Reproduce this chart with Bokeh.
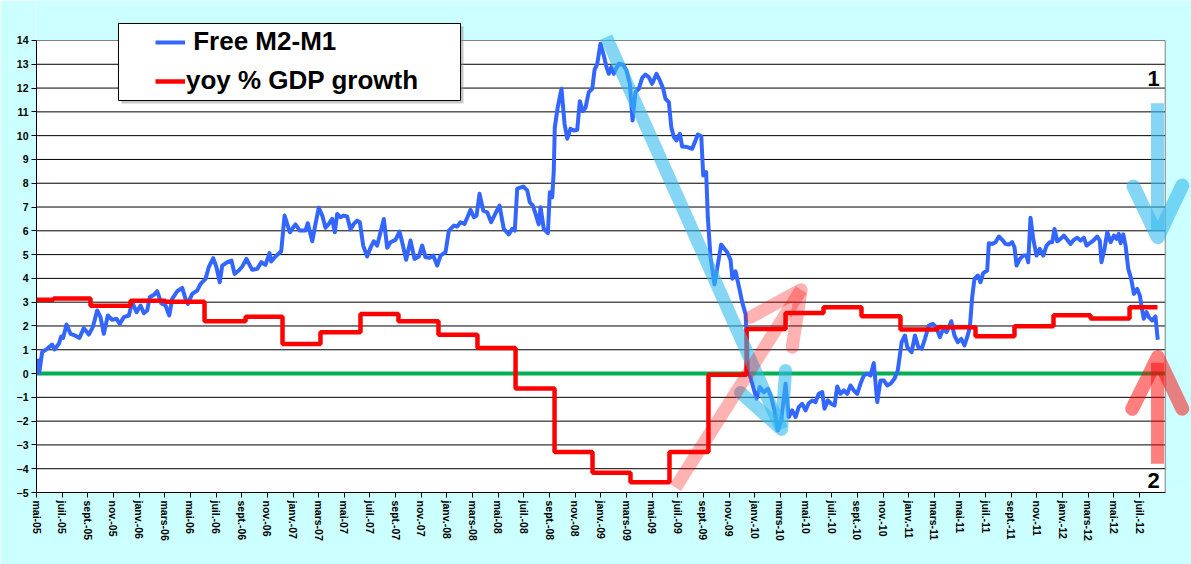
from bokeh.plotting import figure
from bokeh.models import Range1d, FixedTicker, Legend, LegendItem, Label
from bokeh.embed import file_html
from bokeh.resources import INLINE

# ---------------- data ----------------
x_labels = ["mai-05", "juil.-05", "sept.-05", "nov.-05",
            "janv.-06", "mars-06", "mai-06", "juil.-06", "sept.-06", "nov.-06",
            "janv.-07", "mars-07", "mai-07", "juil.-07", "sept.-07", "nov.-07",
            "janv.-08", "mars-08", "mai-08", "juil.-08", "sept.-08", "nov.-08",
            "janv.-09", "mars-09", "mai-09", "juil.-09", "sept.-09", "nov.-09",
            "janv.-10", "mars-10", "mai-10", "juil.-10", "sept.-10", "nov.-10",
            "janv.-11", "mars-11", "mai-11", "juil.-11", "sept.-11", "nov.-11",
            "janv.-12", "mars-12", "mai-12", "juil.-12"]
y_ticks = [-5, -4, -3, -2, -1, 0, 1, 2, 3, 4, 5, 6, 7, 8, 9, 10, 11, 12, 13, 14]

# Free M2-M1 (months since May 2005, value)
blue_m = [0.05, 0.21, 0.44, 0.83, 1.22, 1.40, 1.74, 1.93, 2.08, 2.34, 2.65, 2.99, 3.35, 3.69, 4.08,
          4.39, 4.73, 4.99, 5.25, 5.56, 5.90, 6.24, 6.49, 6.81, 7.20, 7.46, 7.80, 8.11, 8.37, 8.63,
          8.83, 9.15, 9.41, 9.72, 10.06, 10.35, 10.58, 10.97, 11.36, 11.62, 11.80, 12.14, 12.53, 12.79,
          13.18, 13.43, 13.78, 14.03, 14.29, 14.48, 14.87, 15.20, 15.44, 15.77, 16.04, 16.37, 16.82,
          17.21, 17.52, 17.85, 18.17, 18.30, 18.63, 19.08, 19.34, 19.75, 20.19, 20.53, 20.97, 21.15,
          21.50, 21.75, 22.01, 22.28, 22.53, 22.79, 23.05, 23.26, 23.44, 23.70, 23.96, 24.22, 24.48,
          24.74, 25.00, 25.21, 25.47, 25.78, 26.04, 26.30, 26.56, 26.82, 27.08, 27.34, 27.60, 27.99,
          28.30, 28.51, 28.82, 29.16, 29.47, 29.81, 30.07, 30.33, 30.66, 30.93, 31.24, 31.50, 31.89,
          32.15, 32.54, 32.80, 33.06, 33.37, 33.58, 33.84, 34.10, 34.31, 34.54, 34.83, 35.14, 35.45,
          35.79, 36.10, 36.43, 36.82, 37.09, 37.29, 37.48, 37.95, 38.26, 38.46, 38.70, 38.91, 39.16,
          39.30, 39.55, 39.87, 40.02, 40.21, 40.33, 40.41, 40.64, 40.93, 41.17, 41.38, 41.63, 41.89,
          42.16, 42.36, 42.59, 42.80, 43.06, 43.33, 43.51, 43.72, 43.97, 44.23, 44.44, 44.62, 44.81,
          45.01, 45.22, 45.40, 45.74, 46.00, 46.26, 46.47, 46.70, 46.96, 47.22, 47.48, 47.74, 48.00,
          48.34, 48.60, 48.86, 49.04, 49.30, 49.49, 49.69, 49.90, 50.16, 50.34, 50.73, 51.12, 51.38,
          51.56, 51.83, 51.98, 52.21, 52.34, 52.55, 52.86, 53.38, 53.85, 54.11, 54.26, 54.50, 54.83,
          55.02, 55.28, 55.41, 55.46, 55.67, 55.88, 56.14, 56.39, 56.71, 57.02, 57.28, 57.54, 57.80,
          58.06, 58.40, 58.65, 58.92, 59.18, 59.43, 59.70, 59.96, 60.21, 60.48, 60.74, 60.99, 61.26,
          61.44, 61.70, 61.96, 62.22, 62.43, 62.68, 62.94, 63.21, 63.46, 63.72, 63.99, 64.24, 64.50,
          64.77, 65.02, 65.28, 65.55, 65.80, 66.06, 66.33, 66.58, 66.89, 67.15, 67.45, 67.71, 67.89,
          68.23, 68.49, 68.75, 69.01, 69.27, 69.57, 69.88, 70.15, 70.43, 70.69, 70.95, 71.13, 71.32,
          71.57, 71.83, 72.10, 72.35, 72.56, 72.77, 72.95, 73.13, 73.39, 73.60, 73.81, 74.12, 74.25,
          74.51, 74.77, 75.03, 75.29, 75.55, 75.81, 76.07, 76.25, 76.41, 76.67, 76.93, 77.19, 77.32,
          77.50, 77.71, 77.97, 78.22, 78.49, 78.75, 79.00, 79.19, 79.37, 79.58, 79.84, 80.10, 80.36,
          80.62, 80.88, 81.14, 81.40, 81.66, 81.87, 82.12, 82.39, 82.70, 82.90, 83.03, 83.27, 83.48,
          83.74, 84.00, 84.20, 84.38, 84.52, 84.73, 84.91, 85.12, 85.35, 85.56, 85.82, 86.02, 86.21,
          86.33, 86.54, 86.72, 86.99, 87.24, 87.42]
blue_v = [0.62, 0.02, 0.90, 1.04, 1.22, 1.01, 1.25, 1.56, 1.50, 2.06, 1.67, 1.60, 1.50, 1.91, 1.64,
          1.95, 2.65, 2.37, 1.67, 2.44, 2.26, 2.30, 2.09, 2.37, 2.44, 3.00, 2.58, 2.86, 2.54, 2.65,
          3.21, 3.31, 3.46, 2.96, 2.86, 2.44, 3.14, 3.46, 3.60, 3.14, 2.93, 3.35, 3.49, 3.77,
          3.98, 4.47, 4.85, 4.47, 3.84, 4.54, 4.68, 4.75, 4.19, 4.33, 4.50, 4.82, 4.36,
          4.40, 4.68, 4.57, 5.06, 4.71, 4.92, 5.14, 6.64, 5.94, 6.27, 6.01, 6.01, 6.32,
          5.56, 6.29, 6.97, 6.64, 6.13, 6.29, 6.50, 5.94, 6.71, 6.57, 6.64, 6.60, 6.06,
          6.29, 6.43, 6.36, 5.38, 4.92, 5.29, 5.56, 5.38, 5.94, 6.50, 5.29, 5.52, 5.62,
          5.97, 5.52, 4.78, 5.59, 4.82, 4.92, 5.38, 4.89, 4.87, 4.96, 4.54, 4.96, 5.10,
          6.01, 6.22, 6.18, 6.36, 6.29, 6.55, 6.88, 6.57, 6.64, 7.56, 6.85, 6.78, 6.36,
          6.74, 7.06, 6.08, 5.85, 6.08, 6.01, 7.77, 7.86, 7.70, 7.20, 7.06, 6.71, 6.27,
          6.99, 6.08, 5.90, 7.62, 7.41, 8.54, 10.36, 11.20, 11.97, 10.50, 9.87, 10.29, 10.22,
          10.25, 11.45, 11.03, 11.17, 11.83, 11.97, 12.77, 13.02, 13.86, 13.37, 12.88, 12.60, 12.88,
          12.60, 12.85, 13.02, 12.98, 12.74, 12.18, 10.64, 11.83, 11.97, 12.43, 12.57, 12.46, 12.18,
          12.60, 12.32, 11.97, 11.55, 11.41, 10.36, 9.94, 9.80, 10.08, 9.54, 9.52, 9.45, 9.80,
          10.05, 9.97, 8.33, 8.47, 6.57, 4.89, 3.75, 5.42, 5.10, 4.78, 3.98, 4.30, 3.49,
          3.00, 2.51, 1.11, 0.06, -0.15, -0.57, -1.06, -0.57, -0.78, -0.64, -0.99, -1.55, -2.39,
          -1.97, -0.43, -1.83, -1.55, -1.83, -1.41, -1.27, -1.55, -1.25, -1.13, -1.20, -0.85, -0.78,
          -1.48, -1.13, -1.27, -1.34, -0.54, -0.85, -0.71, -0.85, -0.50, -0.71, -0.85, -0.43, -0.08,
          -0.01, -0.08, 0.44, -1.20, -0.29, -0.29, -0.50, -0.43, -0.22, 0.13, 1.32, 1.60, 1.11,
          0.90, 1.60, 1.11, 1.04, 1.46, 2.02, 2.09, 1.95, 1.53, 1.88, 1.74, 1.95, 2.20,
          1.60, 1.32, 1.46, 1.18, 1.53, 1.95, 3.21, 3.98, 4.12, 3.84, 4.22, 4.33, 5.48,
          5.45, 5.52, 5.76, 5.62, 5.45, 5.42, 5.52, 5.31, 4.54, 4.82, 4.96, 4.96, 4.68,
          6.55, 5.66, 4.96, 5.24, 4.96, 5.38, 5.52, 5.52, 6.08, 5.56, 5.66, 5.80, 5.62,
          5.45, 5.62, 5.71, 5.59, 5.71, 5.38, 5.48, 5.59, 5.76, 5.59, 4.68, 5.24, 5.94,
          5.52, 5.80, 5.66, 5.87, 5.48, 5.85, 5.38, 4.40, 3.98, 3.35, 3.56, 3.28, 2.65,
          2.30, 2.58, 2.37, 2.23, 2.40, 1.42]

# yoy % GDP growth (quarter start in months since May 2005, value)
red_start = [0.0, 1.33, 4.21, 7.33, 10.06, 13.10, 16.30, 19.18, 22.14, 25.26, 28.22, 31.34, 34.38,
             37.35, 40.39, 43.35, 46.31, 49.35, 52.39, 55.36, 58.40, 61.36, 64.32, 67.36, 70.25,
             73.21, 76.25, 79.29, 82.18, 85.22]
red_vals = [3.10, 3.15, 2.85, 3.06, 3.02, 2.20, 2.39, 1.24, 1.74, 2.50, 2.20, 1.63, 1.07,
            -0.63, -3.30, -4.17, -4.57, -3.30, -0.05, 1.87, 2.55, 2.79, 2.41, 1.85, 1.95,
            1.57, 1.99, 2.45, 2.31, 2.79]
red_end = 87.40

# ---------------- layout constants ----------------
BG = "#CCFFFF"
FONT = "Liberation Sans"
x_lo, x_hi = 0.0, 88.0          # plot-area bounds (months)
y_lo, y_hi = -5.0, 14.0

p = figure(width=1191, height=564,
           x_range=Range1d(0, 90.05), y_range=Range1d(-5, 15.681),
           output_backend="svg", toolbar_location=None,
           min_border_left=36, min_border_right=0, min_border_top=0, min_border_bottom=72,
           background_fill_color=BG, border_fill_color=BG, outline_line_color=None)
p.xgrid.visible = False
p.ygrid.visible = False

# white plot area
p.quad(left=[x_lo], right=[x_hi], bottom=[y_lo], top=[y_hi],
       fill_color="white", line_color=None)

# horizontal grid lines
grid_vals = [v for v in y_ticks if y_lo < v < y_hi]
p.segment(x0=[x_lo] * len(grid_vals), x1=[x_hi] * len(grid_vals), y0=grid_vals, y1=grid_vals,
          line_color="black", line_width=1)
# top and right border of plot area
p.segment(x0=[x_lo, x_hi], x1=[x_hi, x_hi], y0=[y_hi, y_lo], y1=[y_hi, y_hi],
          line_color="#808080", line_width=1)

# zero line
p.line([x_lo, x_hi], [0, 0], line_color="#00B050", line_width=4)

# series
r_blue = p.line(blue_m, blue_v, line_color="#3366FF", line_width=4, line_join="round")
r_red = p.step(red_start + [red_end], red_vals + [red_vals[-1]], mode="after",
               line_color="#FF0000", line_width=4.5)

# annotation arrows
LB = "#33BBEE"
p.line([44.42, 58.09], [14.14, -2.35], line_color=LB, line_alpha=0.6, line_width=13, line_cap="butt")
p.line([54.89, 58.09, 58.40], [-0.80, -2.35, 0.13], line_color=LB, line_alpha=0.6, line_width=13,
       line_cap="round", line_join="round")
p.line([49.82, 59.62], [-4.79, 3.52], line_color="#FF0000", line_alpha=0.3, line_width=13, line_cap="butt")
p.line([55.67, 59.62, 58.92], [2.37, 3.52, 1.11], line_color="#FF0000", line_alpha=0.3, line_width=13,
       line_cap="round", line_join="round")
p.line([87.40, 87.40], [11.36, 6.0], line_color=LB, line_alpha=0.6, line_width=13, line_cap="butt")
p.line([85.53, 87.42, 89.33], [7.86, 5.73, 7.90], line_color=LB, line_alpha=0.6, line_width=14,
       line_cap="round", line_join="round")
p.line([87.40, 87.40], [-3.79, 0.45], line_color="#FF0000", line_alpha=0.5, line_width=13, line_cap="butt")
p.line([85.43, 87.42, 89.33], [-1.48, 0.69, -1.48], line_color="#FF0000", line_alpha=0.5, line_width=14,
       line_cap="round", line_join="round")

p.add_layout(Label(x=87.09, y=12.40, text="1", text_font=FONT, text_font_style="bold",
                   text_color="black", text_font_size="22px", text_align="center",
                   text_baseline="middle"))
p.add_layout(Label(x=87.09, y=-4.50, text="2", text_font=FONT, text_font_style="bold",
                   text_color="black", text_font_size="22px", text_align="center",
                   text_baseline="middle"))

# legend box with shadow
p.quad(left=[6.62], right=[33.29], top=[14.59], bottom=[11.35],
       fill_color="#909090", fill_alpha=0.5, line_color=None)
p.quad(left=[6.39], right=[33.06], top=[14.715], bottom=[11.478],
       fill_color="white", line_color="black", line_width=1)

legend = Legend(items=[LegendItem(label="\u00a0Free M2-M1", renderers=[r_blue]),
                       LegendItem(label="yoy % GDP growth", renderers=[r_red])],
                location=(115, 392), orientation="vertical",
                label_text_font=FONT, label_text_font_style="bold", label_text_font_size="26px",
                label_text_color="black",
                glyph_width=30, glyph_height=30, label_height=30, label_standoff=1,
                spacing=8, padding=4, margin=0,
                background_fill_alpha=0, border_line_alpha=0)
p.add_layout(legend, "center")

# axes
tick_months = [2 * i for i in range(len(x_labels))]
xa = p.xaxis[0]
xa.ticker = FixedTicker(ticks=tick_months)
xa.major_label_overrides = {m: lab for m, lab in zip(tick_months, x_labels)}
xa.major_label_orientation = "vertical"
xa.bounds = (x_lo, x_hi)
ya = p.yaxis[0]
ya.ticker = FixedTicker(ticks=y_ticks)
ya.bounds = (y_lo, y_hi)
for ax in (xa, ya):
    ax.axis_line_color = "black"
    ax.axis_line_width = 1
    ax.major_tick_line_color = "black"
    ax.major_tick_in = 0
    ax.major_tick_out = 5
    ax.minor_tick_line_color = None
    ax.major_label_text_font = FONT
    ax.major_label_text_font_style = "bold"
    ax.major_label_text_font_size = "10.5px"
    ax.major_label_text_color = "black"
    ax.major_label_standoff = 3

html = file_html(p, INLINE)
html = html.replace("<body>", '<body style="background-color:#CCFFFF;">', 1)
open("out.html", "w").write(html)
